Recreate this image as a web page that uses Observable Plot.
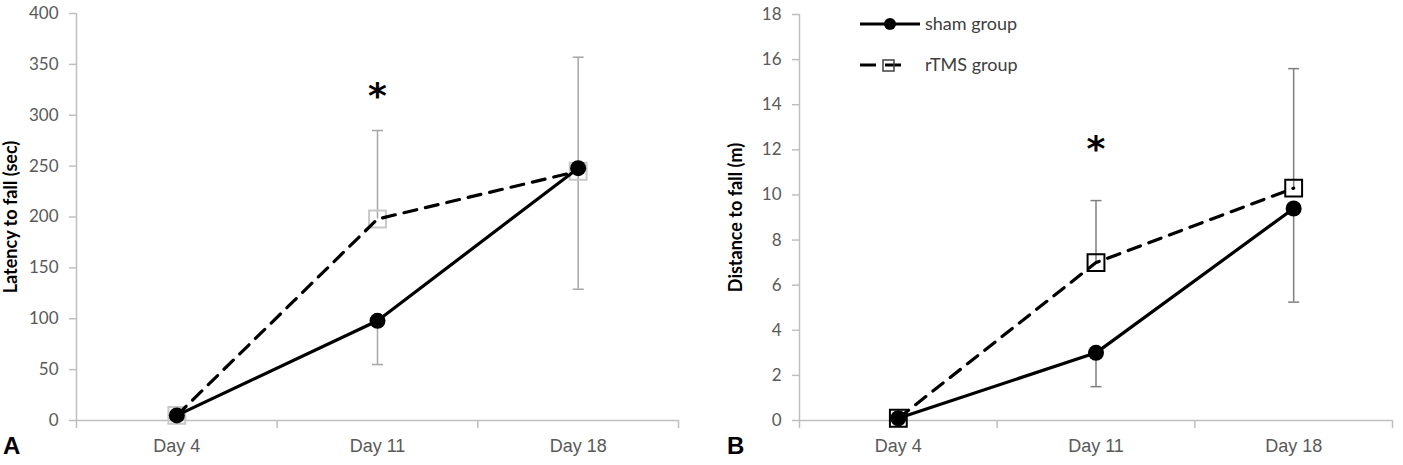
<!DOCTYPE html>
<html>
<head>
<meta charset="utf-8">
<script src="https://cdn.jsdelivr.net/npm/d3@7"></script>
<script src="https://cdn.jsdelivr.net/npm/@observablehq/plot@0.6"></script>
<style>
  body { margin: 0; background: #fff; }
  #wrap { position: relative; width: 1403px; height: 465px; background: #fff; overflow: hidden; }
  .panel { position: absolute; top: 0; }
  .tag { position: absolute; font-family: "Liberation Sans", Arial, sans-serif; font-weight: bold; font-size: 24px; color: #000; line-height: 1; }
  #legend { position: absolute; left: 0; top: 0; pointer-events: none; }
</style>
</head>
<body>
<div id="wrap">
  <div id="panelA" class="panel" style="left:0px"></div>
  <div id="panelB" class="panel" style="left:700px"></div>
  <div class="tag" style="left:3px; top:434px">A</div>
  <div class="tag" style="left:727px; top:434px">B</div>
  <svg id="legend" width="1403" height="100"></svg>
</div>
<script>
// ---- data ----
const days = ["Day 4", "Day 11", "Day 18"];
const seriesNames = ["sham group", "rTMS group"];

// Panel A: latency to fall (sec)
const latencySham = [5, 98, 248];
const latencyRtms = [5, 198, 245];
const latencyRtmsUpper = [null, 285, 357];
const latencyShamLower = [null, 55, 129];
const latencyStar = 318;          // "*" at Day 11
const latencyTicks = [0, 50, 100, 150, 200, 250, 300, 350, 400];

// Panel B: distance to fall (m)
const distanceSham = [0.1, 3.0, 9.4];
const distanceRtms = [0.1, 7.0, 10.3];
const distanceRtmsUpper = [null, 9.75, 15.6];
const distanceShamLower = [null, 1.5, 5.25];
const distanceStar = 12.0;        // "*" at Day 11
const distanceTicks = [0, 2, 4, 6, 8, 10, 12, 14, 16, 18];

const starDay = "Day 11";

// horizontal cap symbol for error bars
const capSymbol = {
  draw(ctx, size) {
    const w = Math.sqrt(size / Math.PI);
    ctx.moveTo(-w, 0);
    ctx.lineTo(w, 0);
  }
};

const sansFont = "Lato, 'Open Sans', sans-serif";

function panel(o) {
  const pos = (i) => i + 0.5;
  const shamRows = days.map((d, i) => ({x: pos(i), y: o.sham[i]}));
  const rtmsRows = days.map((d, i) => ({x: pos(i), y: o.rtms[i]}));
  const errRows = [];
  days.forEach((d, i) => {
    if (o.upper[i] != null) errRows.push({x: pos(i), y1: o.rtms[i], y2: o.upper[i]});
    if (o.lower[i] != null) errRows.push({x: pos(i), y1: o.sham[i], y2: o.lower[i]});
  });
  const capRows = errRows.map(r => ({x: r.x, y: r.y2}));
  const yMax = o.ticks[o.ticks.length - 1];
  return Plot.plot({
    width: o.width,
    height: 465,
    marginLeft: o.marginLeft,
    marginRight: o.marginRight,
    marginTop: o.marginTop,
    marginBottom: 45,
    style: {background: "#fff", overflow: "visible"},
    x: {type: "linear", domain: [0, days.length], axis: null},
    y: {domain: [0, yMax], axis: null},
    marks: [
      // axis lines
      Plot.ruleY([0], {stroke: "#bfbfbf", strokeWidth: 1.5}),
      Plot.ruleX([0], {stroke: "#bfbfbf", strokeWidth: 1.5}),
      // y ticks and labels
      Plot.axisY(o.ticks, {tickSize: 7, tickPadding: 11, stroke: "#bfbfbf", strokeWidth: 1.5,
        fill: "#595959", fontSize: 17, fontFamily: sansFont, label: null}),
      // x category boundary ticks
      Plot.axisX(d3.range(days.length + 1), {tickSize: 8, stroke: "#bfbfbf", strokeWidth: 1.5,
        tickFormat: () => "", label: null}),
      // x category labels
      Plot.axisX(days.map((d, i) => pos(i)), {tickSize: 0, tickPadding: 19,
        tickFormat: (v) => days[Math.floor(v)], fill: "#595959", fontSize: 18,
        fontFamily: "'Liberation Sans Narrow', 'Liberation Sans', Arial, sans-serif", label: null}),
      // y axis title
      Plot.text([o.label], {frameAnchor: "left", rotate: -90, dx: o.labelDx, lineAnchor: "top",
        textAnchor: "middle", fontWeight: "bold", fontSize: 18, fill: "#000", fontFamily: sansFont}),
      // error bars
      Plot.ruleX(errRows, {x: "x", y1: "y1", y2: "y2", stroke: o.errColor, strokeWidth: 1.5}),
      Plot.dot(capRows, {x: "x", y: "y", symbol: capSymbol, r: 5.5, stroke: o.errColor, strokeWidth: 1.5, fill: "none"}),
      // rTMS squares
      Plot.dot(rtmsRows, {x: "x", y: "y", symbol: "square", r: 9.5, stroke: o.squareColor, strokeWidth: 2, fill: "none"}),
      // lines
      Plot.line(rtmsRows, {x: "x", y: "y", stroke: "#000", strokeWidth: 3.2, strokeDasharray: "13,9"}),
      Plot.line(shamRows, {x: "x", y: "y", stroke: "#000", strokeWidth: 3.2}),
      // sham circles
      Plot.dot(shamRows, {x: "x", y: "y", r: 8, fill: "#000", stroke: "none"}),
      // significance star
      Plot.text([o.star], {x: pos(days.indexOf(starDay)), y: (d) => d, text: () => "*",
        fontSize: 36, fontWeight: "bold", fill: "#000", fontFamily: "'DejaVu Sans', sans-serif"})
    ]
  });
}

document.getElementById("panelA").append(panel({
  width: 700, marginLeft: 76, marginRight: 22, marginTop: 13,
  sham: latencySham, rtms: latencyRtms, upper: latencyRtmsUpper, lower: latencyShamLower,
  star: latencyStar, ticks: latencyTicks, label: "Latency to fall (sec)", labelDx: -72,
  squareColor: "#c8c8c8", errColor: "#a6a6a6"
}));

document.getElementById("panelB").append(panel({
  width: 703, marginLeft: 99, marginRight: 11, marginTop: 14,
  sham: distanceSham, rtms: distanceRtms, upper: distanceRtmsUpper, lower: distanceShamLower,
  star: distanceStar, ticks: distanceTicks, label: "Distance to fall (m)", labelDx: -70,
  squareColor: "#000", errColor: "#7f7f7f"
}));

// legend (panel B)
const lg = d3.select("#legend");
// sham entry
lg.append("line").attr("x1", 860).attr("x2", 920).attr("y1", 24).attr("y2", 24)
  .attr("stroke", "#000").attr("stroke-width", 3.2);
lg.append("circle").attr("cx", 890).attr("cy", 24).attr("r", 6).attr("fill", "#000");
lg.append("text").attr("x", 925).attr("y", 24).attr("dy", "0.35em").attr("font-size", 18)
  .attr("font-family", sansFont).attr("fill", "#404040").text(seriesNames[0]);
// rTMS entry
lg.append("line").attr("x1", 860).attr("x2", 905).attr("y1", 65).attr("y2", 65)
  .attr("stroke", "#000").attr("stroke-width", 3.2).attr("stroke-dasharray", "16,9");
lg.append("rect").attr("x", 883).attr("y", 60).attr("width", 11).attr("height", 11)
  .attr("fill", "none").attr("stroke", "#404040").attr("stroke-width", 1.5);
lg.append("text").attr("x", 925).attr("y", 65).attr("dy", "0.35em").attr("font-size", 18)
  .attr("font-family", sansFont).attr("fill", "#404040").text(seriesNames[1]);
</script>
</body>
</html>
